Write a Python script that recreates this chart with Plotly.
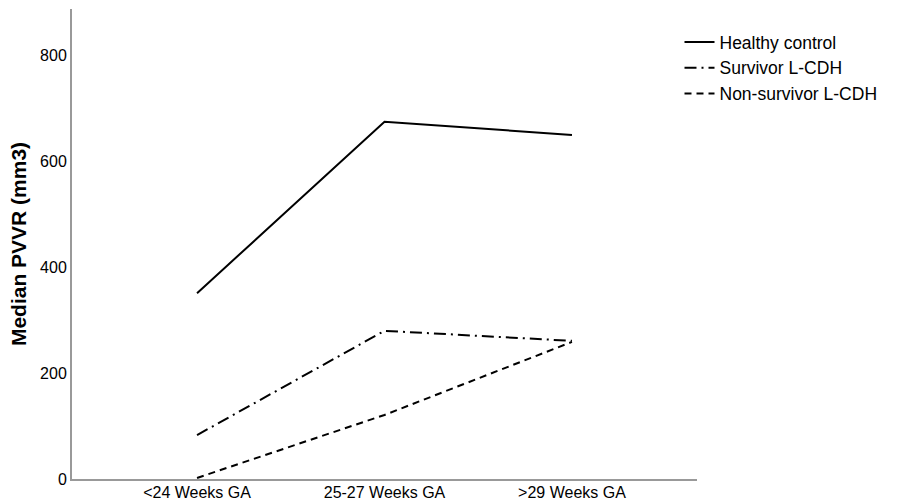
import plotly.graph_objects as go

categories = ["<24 Weeks GA", "25-27 Weeks GA", ">29 Weeks GA"]
healthy_control = [351, 675, 650]
survivor_lcdh = [83, 280, 261]
non_survivor_lcdh = [2, 121, 259]
y_ticks = [0, 200, 400, 600, 800]

FONT = "Liberation Sans, Arial, sans-serif"

fig = go.Figure()
fig.add_trace(go.Scatter(x=categories, y=healthy_control, mode="lines", name="Healthy control",
                         line=dict(color="black", width=2, dash="solid")))
fig.add_trace(go.Scatter(x=categories, y=survivor_lcdh, mode="lines", name="Survivor L-CDH",
                         line=dict(color="black", width=2, dash="12px,5px,2px,5px")))
fig.add_trace(go.Scatter(x=categories, y=non_survivor_lcdh, mode="lines", name="Non-survivor L-CDH",
                         line=dict(color="black", width=2, dash="7px,5px")))

fig.update_layout(
    width=910, height=501,
    margin=dict(l=72, r=213, t=9, b=22, autoexpand=False),
    paper_bgcolor="white", plot_bgcolor="white",
    font=dict(family=FONT, color="black", size=16),
    showlegend=True,
    legend=dict(x=0.972, y=0.968, xanchor="left", yanchor="top",
                font=dict(family=FONT, size=17.5, color="black"),
                bgcolor="rgba(0,0,0,0)", tracegroupgap=0, itemwidth=30),
)
fig.update_xaxes(type="category", range=[-0.667, 2.667], showgrid=False, zeroline=False,
                 showline=True, linecolor="#999999", linewidth=2, ticks="", automargin=False,
                 ticklabelstandoff=-2,
                 tickfont=dict(family=FONT, size=16, color="black"))
fig.update_yaxes(range=[0, 888], tickvals=y_ticks, showgrid=False, zeroline=False,
                 showline=True, linecolor="#999999", linewidth=2, ticks="", automargin=False,
                 tickfont=dict(family=FONT, size=16, color="black"),
                 title=dict(text="<b>Median PVVR (mm3)</b>", font=dict(family=FONT, size=21, color="black"),
                            standoff=8))

fig.write_html("out.html", config={"displayModeBar": False},
               post_script="document.body.style.margin='0px';document.body.style.overflow='hidden';")
